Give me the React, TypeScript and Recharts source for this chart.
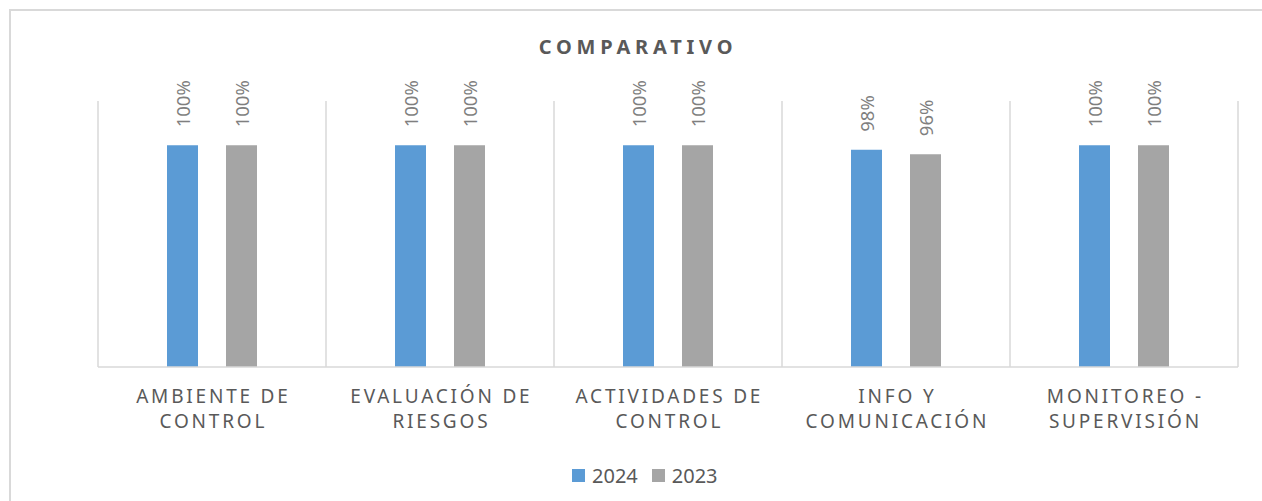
import React from 'react';
import { Bar, BarChart, CartesianGrid, LabelList, Legend, XAxis, YAxis } from 'recharts';

const categories = [
  'AMBIENTE DE\nCONTROL',
  'EVALUACIÓN DE\nRIESGOS',
  'ACTIVIDADES DE\nCONTROL',
  'INFO Y\nCOMUNICACIÓN',
  'MONITOREO -\nSUPERVISIÓN',
];
const values2024 = [100, 100, 100, 98, 100];
const values2023 = [100, 100, 100, 96, 100];
const seriesNames = ['2024', '2023'];

const BLUE = '#5B9BD5';
const GRAY = '#A5A5A5';
const FONT = '"Noto Sans", sans-serif';

const data = categories.map((name, i) => ({
  name,
  '2024': values2024[i],
  '2023': values2023[i],
}));

const CategoryTick = (props: any) => {
  const { x, y, payload } = props;
  const lines = String(payload.value).split('\n');
  return (
    <g>
      {lines.map((line, i) => (
        <text
          key={i}
          x={x + 1.4}
          y={y + 28 + i * 25}
          textAnchor="middle"
          fontFamily={FONT}
          fontSize={19}
          letterSpacing={2.8}
          fill="#595959"
        >
          {line}
        </text>
      ))}
    </g>
  );
};

const BarValue = (props: any) => {
  const { x, y, width, value } = props;
  const cx = x + width / 2;
  const cy = y - 18;
  return (
    <text
      x={cx}
      y={cy}
      transform={`rotate(-90, ${cx}, ${cy})`}
      textAnchor="start"
      dominantBaseline="central"
      fontFamily={FONT}
      fontSize={18.5}
      fill="#7F7F7F"
    >
      {`${value}%`}
    </text>
  );
};

const LegendContent = () => (
  <div style={{ display: 'flex', alignItems: 'center', fontFamily: FONT, fontSize: 20, color: '#595959' }}>
    {seriesNames.map((s, i) => (
      <div key={s} style={{ display: 'flex', alignItems: 'center', marginRight: 14 }}>
        <span style={{ width: 13, height: 13, background: i === 0 ? BLUE : GRAY, marginRight: 7, display: 'inline-block' }} />
        <span>{s}</span>
      </div>
    ))}
  </div>
);

export default function App() {
  return (
    <div style={{ position: 'relative', width: 1262, height: 501, overflow: 'hidden', background: '#fff' }}>
      <style>{'body{margin:0;overflow:hidden}'}</style>
      <div
        style={{
          position: 'absolute',
          left: 9,
          top: 9,
          width: 1320,
          height: 620,
          border: '2px solid #d9d9d9',
        }}
      />
      <div
        style={{
          position: 'absolute',
          left: 0,
          width: 1276,
          top: 34,
          textAlign: 'center',
          fontFamily: FONT,
          fontWeight: 700,
          fontSize: 20,
          letterSpacing: 4.8,
          color: '#595959',
          lineHeight: '26px',
        }}
      >
        COMPARATIVO
      </div>
      <div style={{ position: 'absolute', left: 0, top: 0 }}>
        <BarChart
          width={1262}
          height={501}
          data={data}
          margin={{ top: 101, right: 24, left: 98, bottom: 104 }}
          barSize={31}
          barGap={28}
        >
          <CartesianGrid
            horizontal={false}
            stroke="#d9d9d9"
            strokeWidth={1.5}
            verticalCoordinatesGenerator={({ offset }: any) =>
              Array.from({ length: categories.length + 1 }, (_, i) => offset.left + (i * offset.width) / categories.length)
            }
          />
          <XAxis
            dataKey="name"
            height={30}
            interval={0}
            tickLine={false}
            axisLine={{ stroke: '#d9d9d9', strokeWidth: 1.5 }}
            tick={<CategoryTick />}
          />
          <YAxis hide domain={[0, 120]} />
          <Legend
            layout="horizontal"
            verticalAlign="middle"
            align="center"
            wrapperStyle={{ position: 'absolute', left: 572, top: 462, width: 'auto' }}
            content={<LegendContent />}
          />
          <Bar dataKey="2024" fill={BLUE} isAnimationActive={false}>
            <LabelList dataKey="2024" content={<BarValue />} />
          </Bar>
          <Bar dataKey="2023" fill={GRAY} isAnimationActive={false}>
            <LabelList dataKey="2023" content={<BarValue />} />
          </Bar>
        </BarChart>
      </div>
    </div>
  );
}
